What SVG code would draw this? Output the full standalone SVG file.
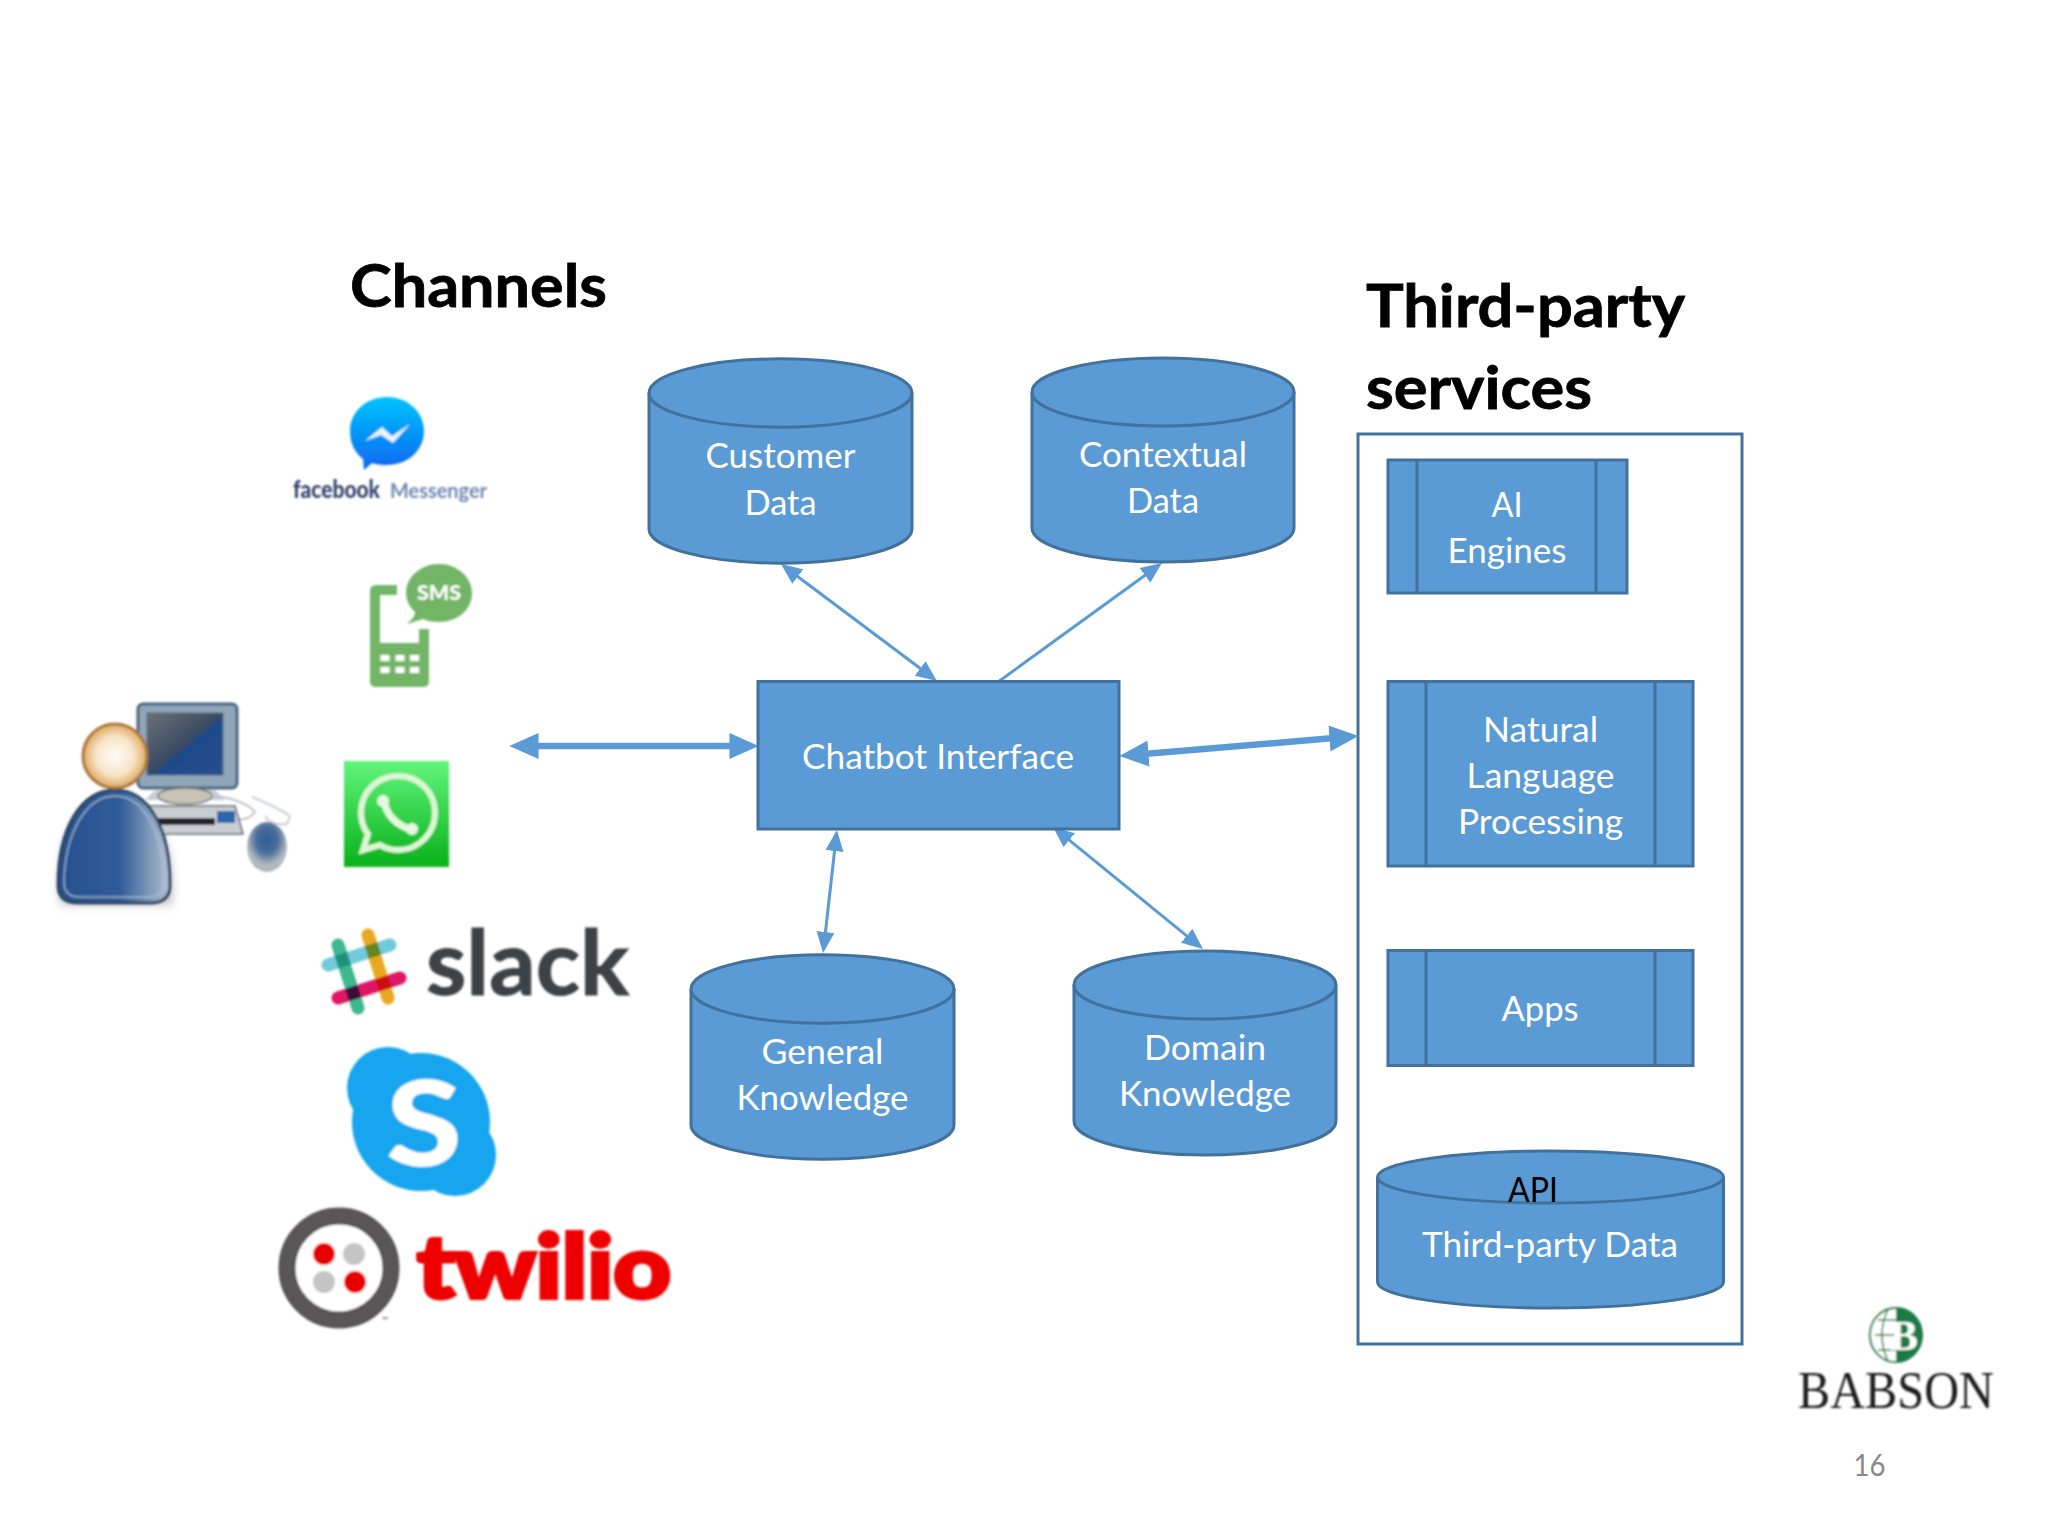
<svg xmlns="http://www.w3.org/2000/svg" width="2048" height="1536" viewBox="0 0 2048 1536">
<style>
.shape{fill:#5B9BD5;stroke:#41719C;stroke-width:3}
.rim{fill:none;stroke:#41719C;stroke-width:3}
.t{font-family:"Lato","Liberation Sans",sans-serif;font-size:35px;fill:#fff;text-anchor:middle}
.h{font-family:"Lato","Liberation Sans",sans-serif;font-size:60px;font-weight:700;fill:#000;stroke:#000;stroke-width:0.8}
.thin{fill:none;stroke:#5B9BD5;stroke-width:3}
.thick{fill:none;stroke:#5B9BD5;stroke-width:6.5}
.soft{filter:url(#soft)}
.m{mix-blend-mode:multiply}
</style>
<defs>
<marker id="a" markerWidth="7" markerHeight="6" refX="1.33" refY="3" orient="auto-start-reverse"><path d="M0 0L7 3L0 6Z" fill="#5B9BD5"/></marker>
<marker id="b" markerWidth="4.500" markerHeight="4" refX="0.7" refY="2" orient="auto-start-reverse"><path d="M0 0L4.500 2L0 4Z" fill="#5B9BD5"/></marker>
<filter id="soft" x="-10%" y="-10%" width="120%" height="120%"><feGaussianBlur stdDeviation="0.8"/></filter>
<filter id="shadow" x="-30%" y="-30%" width="160%" height="160%"><feGaussianBlur stdDeviation="4"/></filter>
<linearGradient id="msg" x1="0" y1="0" x2="0" y2="1"><stop offset="0" stop-color="#00C4FF"/><stop offset="1" stop-color="#0A68F0"/></linearGradient>
<linearGradient id="wa" x1="0" y1="0" x2="0" y2="1"><stop offset="0" stop-color="#62F57C"/><stop offset="1" stop-color="#08B01A"/></linearGradient>
<linearGradient id="body" x1="0" y1="0" x2="1" y2="0"><stop offset="0" stop-color="#27508E"/><stop offset="0.55" stop-color="#2F5C99"/><stop offset="1" stop-color="#B4C2D0"/></linearGradient>
<radialGradient id="head"><stop offset="0" stop-color="#FFFDF8"/><stop offset="0.6" stop-color="#F8E4C8"/><stop offset="1" stop-color="#DFA860"/></radialGradient>
<linearGradient id="scr" x1="0" y1="0" x2="1" y2="1"><stop offset="0" stop-color="#6B7178"/><stop offset="0.5" stop-color="#3A4A62"/><stop offset="0.55" stop-color="#1F4A8A"/><stop offset="1" stop-color="#23508F"/></linearGradient>
<radialGradient id="mouse" cy="0.35"><stop offset="0" stop-color="#2C5F98"/><stop offset="0.55" stop-color="#4A6F98"/><stop offset="1" stop-color="#B0B8C0"/></radialGradient>
</defs>

<g id="title-channels"><text class="h" x="350" y="307" textLength="257" lengthAdjust="spacingAndGlyphs">Channels</text></g>
<g id="title-third-party"><text class="h" x="1366" y="327" textLength="319" lengthAdjust="spacingAndGlyphs">Third-party</text><text class="h" x="1366" y="409" textLength="226" lengthAdjust="spacingAndGlyphs">services</text></g>

<g id="services-box"><rect x="1358" y="434" width="384" height="910" fill="none" stroke="#41719C" stroke-width="3"/></g>

<g id="connectors">
<path class="thin" d="M794.6 574.2L923.4 670.8" marker-start="url(#a)" marker-end="url(#a)"/>
<path class="thin" d="M998 682L1148.2 573" marker-end="url(#a)"/>
<path class="thin" d="M835 847L825 936" marker-start="url(#a)" marker-end="url(#a)"/>
<path class="thin" d="M1066.2 837.7L1189.8 938.3" marker-start="url(#a)" marker-end="url(#a)"/>
<path class="thick" d="M534 746H734" marker-start="url(#b)" marker-end="url(#b)"/>
<path class="thick" d="M1144 754L1334 738" marker-start="url(#b)" marker-end="url(#b)"/>
</g>

<g id="customer-data">
<path class="shape" d="M649 393A131 34 0 0 1 912 393V529A131 34 0 0 1 649 529Z"/><path class="rim" d="M649 393A131 34 0 0 0 912 393"/>
<text class="t" x="780.5" y="468" textLength="150" lengthAdjust="spacingAndGlyphs">Customer</text><text class="t" x="780.5" y="515" textLength="72" lengthAdjust="spacingAndGlyphs">Data</text>
</g>
<g id="contextual-data">
<path class="shape" d="M1032 392A131 34 0 0 1 1294 392V528A131 34 0 0 1 1032 528Z"/><path class="rim" d="M1032 392A131 34 0 0 0 1294 392"/>
<text class="t" x="1163" y="467" textLength="168" lengthAdjust="spacingAndGlyphs">Contextual</text><text class="t" x="1163" y="513" textLength="72" lengthAdjust="spacingAndGlyphs">Data</text>
</g>
<g id="chatbot-interface">
<rect class="shape" x="758" y="681.500" width="361" height="147.500"/>
<text class="t" x="938" y="769" textLength="272" lengthAdjust="spacingAndGlyphs">Chatbot Interface</text>
</g>
<g id="general-knowledge">
<path class="shape" d="M691 989A131 34 0 0 1 954 989V1125A131 34 0 0 1 691 1125Z"/><path class="rim" d="M691 989A131 34 0 0 0 954 989"/>
<text class="t" x="822.5" y="1064" textLength="122" lengthAdjust="spacingAndGlyphs">General</text><text class="t" x="822.5" y="1110" textLength="172" lengthAdjust="spacingAndGlyphs">Knowledge</text>
</g>
<g id="domain-knowledge">
<path class="shape" d="M1074 985A131 34 0 0 1 1336 985V1121A131 34 0 0 1 1074 1121Z"/><path class="rim" d="M1074 985A131 34 0 0 0 1336 985"/>
<text class="t" x="1205" y="1060" textLength="122" lengthAdjust="spacingAndGlyphs">Domain</text><text class="t" x="1205" y="1106" textLength="172" lengthAdjust="spacingAndGlyphs">Knowledge</text>
</g>
<g id="ai-engines">
<rect class="shape" x="1388" y="460" width="239" height="133"/><path class="rim" d="M1417 460V593M1596 460V593"/>
<text class="t" x="1507" y="517" textLength="31" lengthAdjust="spacingAndGlyphs">AI</text><text class="t" x="1507" y="563" textLength="119" lengthAdjust="spacingAndGlyphs">Engines</text>
</g>
<g id="nlp">
<rect class="shape" x="1388" y="681.500" width="305" height="184.500"/><path class="rim" d="M1426 681V866M1655 681V866"/>
<text class="t" x="1540.5" y="742" textLength="115" lengthAdjust="spacingAndGlyphs">Natural</text><text class="t" x="1540.5" y="788" textLength="148" lengthAdjust="spacingAndGlyphs">Language</text><text class="t" x="1540.5" y="834" textLength="165" lengthAdjust="spacingAndGlyphs">Processing</text>
</g>
<g id="apps">
<rect class="shape" x="1388" y="950.500" width="305" height="115"/><path class="rim" d="M1426 950V1066M1655 950V1066"/>
<text class="t" x="1540" y="1021" textLength="77" lengthAdjust="spacingAndGlyphs">Apps</text>
</g>
<g id="third-party-data">
<path class="shape" d="M1377.500 1177A173 26 0 0 1 1723.500 1177V1282A173 26 0 0 1 1377.500 1282Z"/><path class="rim" d="M1377.500 1177A173 26 0 0 0 1723.500 1177"/>
<text class="t" x="1533" y="1202" textLength="50" lengthAdjust="spacingAndGlyphs" style="fill:#000">API</text>
<text class="t" x="1550" y="1257" textLength="256" lengthAdjust="spacingAndGlyphs">Third-party Data</text>
</g>

<g id="user" class="soft">
<path d="M60 905Q50 815 115 795Q180 815 172 905Z" fill="#8A8F96" opacity="0.5" filter="url(#shadow)"/>
<rect x="138" y="704" width="99" height="84" rx="5" fill="#8FA6BA" stroke="#4A6480" stroke-width="3"/>
<rect x="147" y="713" width="76" height="62" fill="url(#scr)" stroke="#5C6B78" stroke-width="1"/>
<path d="M155 790H215L225 800H145Z" fill="#C8CDD0"/>
<ellipse cx="185" cy="796" rx="27" ry="8" fill="#C9C3B6" stroke="#6E7780" stroke-width="1.500"/>
<path d="M252 797Q275 806 290 816L287 824Q270 826 265 816" fill="none" stroke="#C8CCD0" stroke-width="2"/>
<path d="M212 795Q245 800 255 812Q250 820 235 820" fill="none" stroke="#BFC4C8" stroke-width="2"/>
<path d="M146 806H235L243 834H146Z" fill="#C9CED2" stroke="#5E656B" stroke-width="1.500"/>
<rect x="158" y="818" width="57" height="7" fill="#22262B"/>
<rect x="217" y="811" width="18" height="12" fill="#2F66AE"/>
<ellipse cx="267" cy="847" rx="20" ry="25" fill="url(#mouse)"/>
<path d="M115 790C150 790 170 830 170 885Q170 903 150 903H78Q58 903 58 885C58 830 80 790 115 790Z" fill="url(#body)" stroke="#2E4666" stroke-width="3"/>
<path d="M115 796C145 796 163 835 164 882Q164 897 148 897H80Q64 897 64 882C65 835 85 796 115 796Z" fill="none" stroke="#AFC3D8" stroke-width="1.500" opacity="0.8"/>
<circle cx="115" cy="756" r="32" fill="url(#head)" stroke="#A9793A" stroke-width="3"/>
</g>

<g id="facebook-messenger" class="soft">
<path d="M387 397C408 397 424 412 424 431C424 451 407 465 387 465Q378 465 372 463L364 470L363 459Q350 449 350 431C350 412 366 397 387 397Z" fill="url(#msg)"/>
<path d="M365 441L382 427L392 436L410 424L393 443L381 435Z" fill="#fff" opacity="0.9"/>
<text x="293" y="498" font-family="Lato,'Liberation Sans',sans-serif" font-size="24" font-weight="900" fill="#34436E" textLength="87" lengthAdjust="spacingAndGlyphs">facebook</text>
<text x="390" y="498" font-family="Lato,'Liberation Sans',sans-serif" font-size="21" font-weight="700" fill="#6F88B0" textLength="97" lengthAdjust="spacingAndGlyphs">Messenger</text>
</g>

<g id="sms" class="soft">
<path d="M370 591Q370 585 376 585H397V595H380V643H419V629H429V681Q429 687 423 687H376Q370 687 370 681Z" fill="#72B566"/>
<path d="M380.500 655h9v6h-9zM395.500 655h9v6h-9zM410 655h9v6h-9zM380.500 667h9v6h-9zM395.500 667h9v6h-9zM410 667h9v6h-9z" fill="#fff"/>
<path d="M439 564C457 564 472 577 472 593C472 610 457 622 439 622Q430 622 423 619L407 624Q416 616 415 612Q406 604 406 593C406 577 421 564 439 564Z" fill="#72B566"/>
<text x="439" y="600" font-family="Lato,'Liberation Sans',sans-serif" font-size="20" font-weight="900" fill="#fff" text-anchor="middle" textLength="44" lengthAdjust="spacingAndGlyphs">SMS</text>
</g>

<g id="whatsapp" class="soft">
<rect x="344" y="761" width="105" height="106" fill="url(#wa)"/>
<path d="M398 776C419 776 435 792 435 813C435 833 419 850 398 850Q388 850 380 845L363 850L368 834Q361 825 361 813C361 792 377 776 398 776Z" fill="none" stroke="#DDF6D6" stroke-width="6"/>
<path d="M384 800Q387 822 412 830" fill="none" stroke="#E6F8E0" stroke-width="7"/>
<circle cx="383" cy="801" r="6" fill="#E6F8E0"/><circle cx="412" cy="829" r="6" fill="#E6F8E0"/>
</g>

<g id="slack" class="soft">
<g fill="none" stroke-width="13" stroke-linecap="round" style="isolation:isolate">
<path class="m" d="M328 965L390 945" stroke="#70CADB"/>
<path class="m" d="M338 945L358 1008" stroke="#3EB890"/>
<path class="m" d="M368 935L388 998" stroke="#E9A820"/>
<path class="m" d="M338 998L400 978" stroke="#E01765"/>
</g>
<text x="426" y="995" font-family="Lato,'Liberation Sans',sans-serif" font-size="90" font-weight="700" fill="#3E4347" stroke="#3E4347" stroke-width="1" textLength="203" lengthAdjust="spacingAndGlyphs">slack</text>
</g>

<g id="skype" class="soft">
<circle cx="388" cy="1088" r="41" fill="#12A5EE"/><circle cx="455" cy="1155" r="41" fill="#12A5EE"/><ellipse cx="421" cy="1122" rx="69" ry="69" fill="#12A5EE"/>
<text x="424" y="1166" font-family="Lato,'Liberation Sans',sans-serif" font-size="118" font-weight="900" fill="#fff" text-anchor="middle" textLength="76" lengthAdjust="spacingAndGlyphs">S</text>
</g>

<g id="twilio" class="soft">
<circle cx="339" cy="1268" r="52" fill="#fff" stroke="#5A5557" stroke-width="17"/>
<circle cx="324" cy="1254" r="11" fill="#E80000"/><circle cx="354" cy="1254" r="11" fill="#C4C4C4"/><circle cx="324" cy="1282" r="11" fill="#C4C4C4"/><circle cx="355" cy="1282" r="11" fill="#E80000"/>
<text x="385" y="1323" font-family="Lato,'Liberation Sans',sans-serif" font-size="8" fill="#444" text-anchor="middle">™</text>
<text x="417" y="1298" font-family="Lato,'Liberation Sans',sans-serif" font-size="88" font-weight="900" fill="#EE0000" stroke="#EE0000" stroke-width="4" textLength="254" lengthAdjust="spacingAndGlyphs">twilio</text>
</g>

<g id="babson" class="soft">
<ellipse cx="1896" cy="1335" rx="26" ry="27" fill="#fff" stroke="#1E7A45" stroke-width="2"/>
<path d="M1896 1308A26 27 0 0 1 1896 1362Z" fill="#1E7A45"/>
<path d="M1888 1309Q1876 1335 1888 1361M1878 1320H1896M1875 1335H1896M1878 1350H1896" fill="none" stroke="#1E7A45" stroke-width="1.500"/>
<text x="1904" y="1350" font-family="'Liberation Serif',serif" font-size="42" font-weight="700" fill="#fff" text-anchor="middle">B</text>
<text x="1798" y="1408" font-family="'Liberation Serif',serif" font-size="52" fill="#1A1A1A" textLength="196" lengthAdjust="spacingAndGlyphs">BABSON</text>
</g>
<g id="page-number"><text x="1869.500" y="1476" font-family="Lato,'Liberation Sans',sans-serif" font-size="31" fill="#898989" text-anchor="middle" textLength="32" lengthAdjust="spacingAndGlyphs">16</text></g>
</svg>
